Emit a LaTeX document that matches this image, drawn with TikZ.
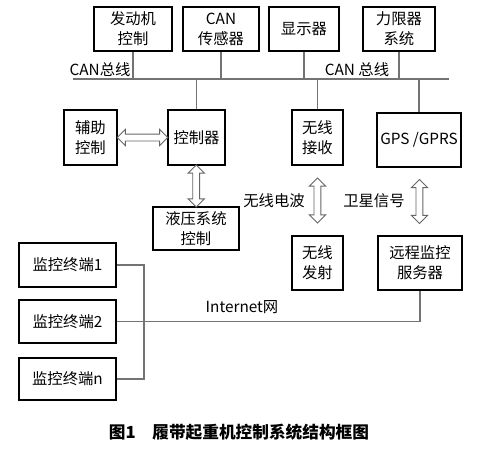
\documentclass[tikz,border=0pt]{standalone}
\usepackage{fontspec}
\setmainfont{Noto Sans CJK SC}
\usepackage{tikz}
\usetikzlibrary{shapes.arrows}

\tikzset{
  blk/.style={draw, line width=1.3pt, align=center, inner sep=0pt, font=\fontsize{11.5}{15}\selectfont},
  conn/.style={draw=black!55, line width=0.9pt},
  dbl/.style={double arrow, draw=black!60, fill=white, line width=0.7pt, inner xsep=0pt, inner ysep=2.25pt, double arrow head extend=3.5pt},
  lbl/.style={inner sep=0pt, font=\fontsize{11.5}{14}\selectfont}
}

\begin{document}
\begin{tikzpicture}[x=0.75pt,y=0.75pt,yscale=-1,xscale=1]
        \useasboundingbox (0,0) rectangle (480,450);
        \draw (133,29) node [blk, minimum width=58.5, minimum height=33] (eng) {发动机\\控制};
        \draw (221,29) node [blk, minimum width=57, minimum height=33] (sens) {CAN\\传感器};
        \draw (304,29) node [blk, minimum width=52.5, minimum height=33] (disp) {显示器};
        \draw (399,29) node [blk, minimum width=54, minimum height=33] (flim) {力限器\\系统};

        \draw (90.5,137.5) node [blk, minimum width=39.75, minimum height=41.25] (aux) {辅助\\控制};
        \draw (196.5,137.5) node [blk, minimum width=42.75, minimum height=41.25] (ctrl) {控制器};
        \draw (317.5,137.5) node [blk, minimum width=38.25, minimum height=41.25] (wrx) {无线\\接收};
        \draw (419,140) node [blk, minimum width=63, minimum height=40.5] (gps) {GPS /GPRS};
        \draw (196,228.5) node [blk, minimum width=64.5, minimum height=32.25] (hyd) {液压系统\\控制};
        \draw (317.5,263) node [blk, minimum width=38.25, minimum height=40.5] (wtx) {无线\\发射};
        \draw (420,263) node [blk, minimum width=63, minimum height=40.5] (server) {远程监控\\服务器};

        \draw (67.5,265) node [blk, minimum width=72.75, minimum height=33] (term1) {监控终端1};
        \draw (67.5,321.5) node [blk, minimum width=72.75, minimum height=32.5] (term2) {监控终端2};
        \draw (67.5,379) node [blk, minimum width=72.75, minimum height=32] (termn) {监控终端n};

        \coordinate (busL) at (73,79);
        \coordinate (busR) at (449,79);
        \coordinate (trunk) at (144,265);
        \draw [conn] (busL) -- (busR);
        \draw [conn] (eng.south) -- (eng.south |- busL);
        \draw [conn] (sens.south) -- (sens.south |- busL);
        \draw [conn] (disp.south) -- (disp.south |- busL);
        \draw [conn] (flim.south) -- (flim.south |- busL);
        \draw [conn] (ctrl.north) -- (ctrl.north |- busL);
        \draw [conn] (wrx.north) -- (wrx.north |- busL);
        \draw [conn] (gps.north) -- (gps.north |- busL);

        \draw [conn] (term1.east) -- (trunk) -- (trunk |- termn.east) -- (termn.east);
        \draw [conn] (term2.east) -| (server.south);

        \path (aux.east) -- (ctrl.west) node [dbl, midway, minimum height=38] (auxarr) {};
        \path (ctrl.south) -- (hyd.north) node [dbl, midway, rotate=90, minimum height=31.5] (hydarr) {};
        \path (wrx.south) -- (wtx.north) node [dbl, midway, rotate=90, minimum height=33.75] (wave) {};
        \path (gps.south) -- (server.north) node [dbl, midway, rotate=90, minimum height=33] (sat) {};

        \draw (100,70) node [lbl] (can1) {CAN总线};
        \draw (357,70) node [lbl] (can2) {CAN 总线};
        \draw (305,201) node [lbl, anchor=east] (wavetxt) {无线电波};
        \draw (374,201) node [lbl] (sattxt) {卫星信号};
        \draw (242,307) node [lbl] (net) {Internet网};
        \draw (239,432) node [font=\fontsize{12.5}{14}\selectfont\bfseries] (cap) {图1\quad 履带起重机控制系统结构框图};
\end{tikzpicture}
\end{document}
